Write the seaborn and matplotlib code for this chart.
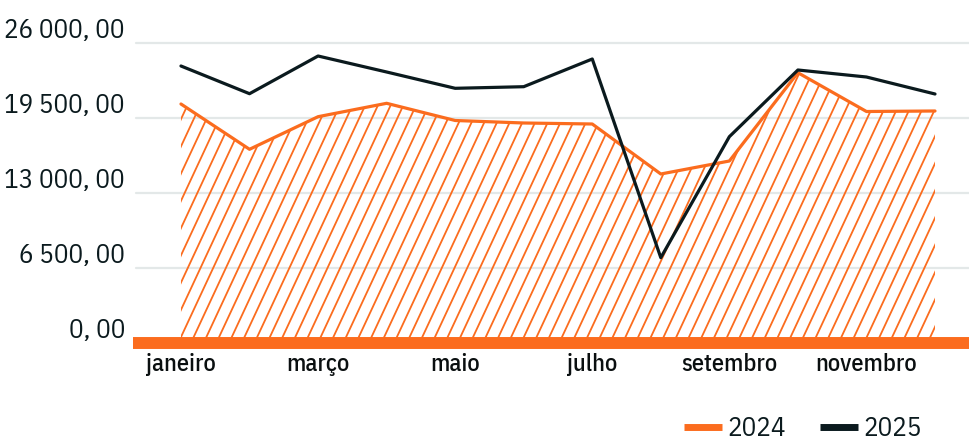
import numpy as np
import pandas as pd
import seaborn as sns
import matplotlib.pyplot as plt
from matplotlib.collections import LineCollection
from matplotlib.lines import Line2D

months = ['janeiro', 'fevereiro', 'março', 'abril', 'maio', 'junho',
          'julho', 'agosto', 'setembro', 'outubro', 'novembro', 'dezembro']
vals_2024 = [20713, 16788, 19613, 20774, 19284, 19067, 18980, 14647, 15773, 23426, 20063, 20107]
vals_2025 = [24007, 21606, 24873, 23487, 22074, 22213, 24613, 7393, 17880, 23660, 23053, 21580]
ytick_vals = [0, 6500, 13000, 19500, 26000]
ytick_labels = ['0, 00', '6 500, 00', '13 000, 00', '19 500, 00', '26 000, 00']
xtick_months = ['janeiro', 'março', 'maio', 'julho', 'setembro', 'novembro']

orange = '#fb6c1e'
black = '#0b1a1e'
grid_c = '#e3e8e8'

df = pd.DataFrame({
    'mes': list(range(12)) * 2,
    'valor': vals_2024 + vals_2025,
    'ano': ['2024'] * 12 + ['2025'] * 12,
})

sns.set_style('white')
plt.rcParams['font.family'] = ['IBM Plex Sans Condensed', 'Roboto Condensed', 'DejaVu Sans']
plt.rcParams['text.color'] = black

fig = plt.figure(figsize=(9.69, 4.43), dpi=100)
ax = fig.add_axes([136 / 969, 1 - 343 / 443, 833 / 969, 300 / 443])

# hatched area under 2024
x = np.arange(12)
poly = ax.fill_between(x, vals_2024, 0, facecolor='none', edgecolor='none', zorder=1)
W, H = 833, 300
dx = 12.7 / W
run = H / (W * np.tan(np.radians(65)))
segs = [[(x0, 0), (x0 + run, 1)] for x0 in np.arange(-0.3, 1.05, dx)]
hatch = LineCollection(segs, colors=orange, linewidths=1.3, transform=ax.transAxes, zorder=1)
ax.add_collection(hatch)
hatch.set_clip_path(poly.get_paths()[0], ax.transData)

sns.lineplot(data=df, x='mes', y='valor', hue='ano', palette={'2024': orange, '2025': black},
             linewidth=2.3, ax=ax, legend=False, zorder=3)

for v in ytick_vals[1:]:
    ax.axhline(v, color=grid_c, lw=1.6, zorder=0, clip_on=False)
ax.axhline(0, color=orange, lw=8.6, zorder=4, clip_on=False, xmin=-0.004, solid_capstyle='butt')

ax.set_xlim(-0.656, 11.496)
ax.set_ylim(0, 26000)
ax.set_xticks(range(0, 12, 2))
ax.set_xticklabels(xtick_months, fontsize=17.5, color='#0a0f10', fontweight='medium')
ax.set_yticks(ytick_vals)
ax.set_yticklabels(ytick_labels, fontsize=19.5, color=black, va='bottom')
ax.tick_params(axis='y', length=0, pad=8)
ax.tick_params(axis='x', length=0, pad=7)
ax.set_xlabel('')
ax.set_ylabel('')
for s in ax.spines.values():
    s.set_visible(False)

handles = [Line2D([], [], color=orange, lw=5, solid_capstyle='butt'),
           Line2D([], [], color=black, lw=5, solid_capstyle='butt')]
fig.legend(handles, ['2024', '2025'], loc='center', bbox_to_anchor=(803 / 969, 1 - 429 / 443),
           ncol=2, frameon=False, fontsize=19.5, handlelength=1.4, handletextpad=0.2,
           columnspacing=1.25)

fig.savefig('out.png', dpi=100)
